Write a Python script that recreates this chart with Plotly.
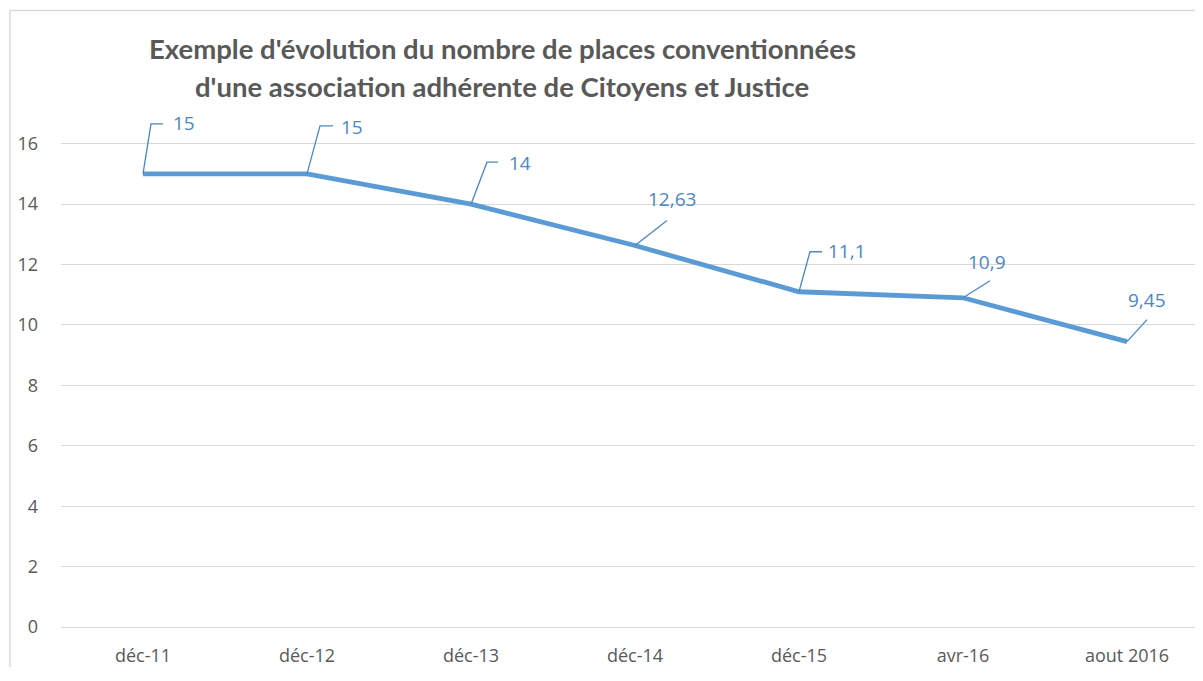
import plotly.graph_objects as go

categories = ["déc-11", "déc-12", "déc-13", "déc-14", "déc-15", "avr-16", "aout 2016"]
values = [15, 15, 14, 12.63, 11.1, 10.9, 9.45]
labels = ["15", "15", "14", "12,63", "11,1", "10,9", "9,45"]
y_ticks = [0, 2, 4, 6, 8, 10, 12, 14, 16]
title_lines = ["Exemple d'évolution du nombre de places conventionnées",
               "d'une association adhérente de Citoyens et Justice"]

# leader line paths (pixel offsets from each point, y up) and label offsets
leader_paths = [
    "M0,0 L8,50 L20,50",
    "M0,0 L13,48 L26,48",
    "M0,0 L16,42 L27,42",
    "M0,0 L32,25",
    "M0,0 L11,40 L23,40",
    "M0,0 L27,17",
    "M0,0 L20,22",
]
label_shift = [(41, 51), (45, 47), (49, 41), (37, 47), (48, 41), (24, 36), (20, 42)]

# page body has an 8px margin on each side: keep the figure inside the window
OFF = 8
W, H = 1203 - 2 * OFF, 681 - 2 * OFF - 6
ML, MR, MT = 61 - OFF, 0, 100 - OFF
MB = H - (630 - OFF)
BLUE = "#5B9BD5"
LBL = "#4A86C5"
GRAY = "#595959"

fig = go.Figure()
fig.add_trace(go.Scatter(
    x=list(range(len(categories))), y=values, mode="lines",
    line=dict(color=BLUE, width=4.8), cliponaxis=False, hoverinfo="skip",
    showlegend=False,
))

for i, (v, lab) in enumerate(zip(values, labels)):
    fig.add_shape(type="path", xref="x", yref="y", xsizemode="pixel", ysizemode="pixel",
                  xanchor=i, yanchor=v, path=leader_paths[i],
                  line=dict(color=LBL, width=1.3))
    dx, dy = label_shift[i]
    fig.add_annotation(x=i, y=v, xref="x", yref="y", text=lab, showarrow=False,
                       xshift=dx, yshift=dy,
                       font=dict(family="Open Sans", size=19, color=LBL))

plot_w = W - ML - MR
plot_h = H - MT - MB

def paper_x(px):
    return (px - OFF - ML) / plot_w

def paper_y(py):
    return (H - MB - (py - OFF)) / plot_h

for line, cy in zip(title_lines, [48, 86]):
    fig.add_annotation(x=paper_x(502), y=paper_y(cy), xref="paper", yref="paper",
                       text="<b>" + line + "</b>", showarrow=False,
                       xanchor="center", yanchor="middle",
                       font=dict(family="Lato", size=27.5, color=GRAY))

# chart border (top and left edges visible in the frame)
bx0, bx1 = paper_x(10), paper_x(1300)
by0, by1 = paper_y(760), paper_y(10)
fig.add_shape(type="path", xref="paper", yref="paper",
              path=f"M{bx0},{by0} L{bx0},{by1} L{bx1},{by1}",
              line=dict(color="#D9D9D9", width=1.5), layer="below")

n = len(categories)
spacing = 164
fig.update_layout(
    width=W, height=H,
    margin=dict(l=ML, r=MR, t=MT, b=MB),
    paper_bgcolor="white", plot_bgcolor="white",
    xaxis=dict(tickvals=list(range(n)), ticktext=categories,
               range=[-0.5, -0.5 + plot_w / spacing], showgrid=False, zeroline=False,
               showline=False, ticks="", ticklabelstandoff=16,
               tickfont=dict(family="Open Sans", size=18, color=GRAY)),
    yaxis=dict(tickvals=y_ticks, range=[0, 16 + (144 - 100) / 30.375],
               showgrid=True, gridcolor="#D9D9D9", gridwidth=1,
               zeroline=True, zerolinecolor="#D9D9D9", zerolinewidth=1,
               showline=False, ticks="", ticklabelstandoff=22,
               tickfont=dict(family="Open Sans", size=18, color=GRAY)),
)

fig.write_html("out.html")
